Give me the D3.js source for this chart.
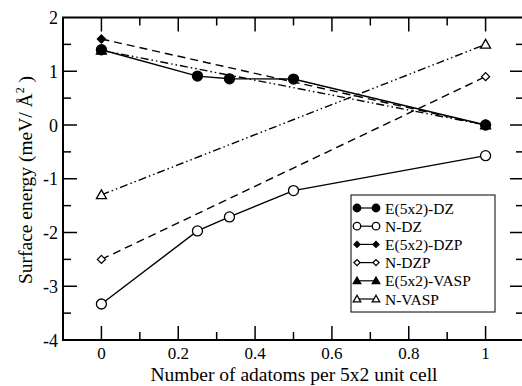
<!DOCTYPE html>
<html><head><meta charset="utf-8">
<script src="https://cdn.jsdelivr.net/npm/d3@7"></script>
<style>body{margin:0;background:#fff}svg{display:block}</style>
</head><body><svg id="c" width="522" height="386"></svg>
<script>
const xTicks = [0, 0.2, 0.4, 0.6, 0.8, 1];
const yTicks = [-4, -3, -2, -1, 0, 1, 2];
const xDZ = [0, 0.25, 0.3333, 0.5, 1];
const eDZ = [1.40, 0.91, 0.86, 0.855, 0.0];
const nDZ = [-3.33, -1.97, -1.71, -1.22, -0.57];
const xTwo = [0, 1];
const eDZP = [1.60, 0.0];
const nDZP = [-2.50, 0.90];
const eVASP = [1.39, 0.0];
const nVASP = [-1.30, 1.50];
const seriesNames = ["E(5x2)-DZ", "N-DZ", "E(5x2)-DZP", "N-DZP", "E(5x2)-VASP", "N-VASP"];

const series = [
  {name: seriesNames[0], xs: xDZ, ys: eDZ, sym: "circle", fill: true, dash: null},
  {name: seriesNames[1], xs: xDZ, ys: nDZ, sym: "circle", fill: false, dash: null},
  {name: seriesNames[2], xs: xTwo, ys: eDZP, sym: "diamond", fill: true, dash: "8,5"},
  {name: seriesNames[3], xs: xTwo, ys: nDZP, sym: "diamond", fill: false, dash: "8,5"},
  {name: seriesNames[4], xs: xTwo, ys: eVASP, sym: "triangle", fill: true, dash: "8,3,1.5,3,1.5,3"},
  {name: seriesNames[5], xs: xTwo, ys: nVASP, sym: "triangle", fill: false, dash: "8,3,1.5,3,1.5,3"}
];

const FONT = "'Liberation Serif', 'Times New Roman', 'DejaVu Serif', serif";
const svg = d3.select("#c");
const L = 63, R = 524, T = 17.5, B = 340;
const x = d3.scaleLinear().domain([-0.1, 1.1]).range([L, R]);
const y = d3.scaleLinear().domain([-4, 2]).range([B, T]);

svg.append("rect").attr("x", L).attr("y", T).attr("width", R - L).attr("height", B - T)
  .attr("fill", "none").attr("stroke", "#000").attr("stroke-width", 2);

const xMinor = d3.range(-0.1, 1.11, 0.1).map(v => +v.toFixed(2));
const yMinor = d3.range(-4, 2.01, 0.5);
const isMajorX = v => Math.abs(v * 5 - Math.round(v * 5)) < 1e-6;
const isMajorY = v => Math.abs(v - Math.round(v)) < 1e-6;
const tk = svg.append("g").attr("stroke", "#000").attr("stroke-width", 1.5);
xMinor.filter(v => v > -0.1 && v < 1.1).forEach(v => {
  const len = isMajorX(v) ? 14 : 8;
  tk.append("line").attr("x1", x(v)).attr("x2", x(v)).attr("y1", B).attr("y2", B - len);
  tk.append("line").attr("x1", x(v)).attr("x2", x(v)).attr("y1", T).attr("y2", T + len);
});
yMinor.filter(v => v > -4 && v < 2).forEach(v => {
  const len = isMajorY(v) ? 14 : 8;
  tk.append("line").attr("y1", y(v)).attr("y2", y(v)).attr("x1", L).attr("x2", L + len);
  tk.append("line").attr("y1", y(v)).attr("y2", y(v)).attr("x1", R).attr("x2", R - len);
});

svg.append("g").selectAll("text").data(xTicks).join("text")
  .attr("x", d => x(d)).attr("y", B + 19).attr("text-anchor", "middle")
  .style("font-family", FONT).style("font-size", "17px").text(d => d3.format("~g")(d));
svg.append("g").selectAll("text").data(yTicks).join("text")
  .attr("x", L - 5).attr("y", d => y(d) + 6.5).attr("text-anchor", "end")
  .style("font-family", FONT).style("font-size", "18px").text(d => d);

svg.append("text").attr("x", 294).attr("y", B + 41).attr("text-anchor", "middle")
  .style("font-family", FONT).style("font-size", "19.5px").text("Number of adatoms per 5x2 unit cell");
const yl = svg.append("text").attr("transform", `translate(32,180) rotate(-90)`)
  .attr("text-anchor", "middle").style("font-family", FONT).style("font-size", "19.5px");
yl.append("tspan").text("Surface energy (meV/ Å");
yl.append("tspan").attr("dy", -8).style("font-size", "12px").text("2");
yl.append("tspan").attr("dy", 8).text(" )");

function drawSym(g, sym, cx, cy, fill, k) {
  let el;
  if (sym === "circle") {
    el = g.append("circle").attr("cx", cx).attr("cy", cy).attr("r", 5 * k);
  } else if (sym === "diamond") {
    const s = 4 * k;
    el = g.append("path").attr("d", `M${cx},${cy - s}L${cx + s},${cy}L${cx},${cy + s}L${cx - s},${cy}Z`);
  } else {
    const s = 5 * k;
    el = g.append("path").attr("d", `M${cx},${cy - s}L${cx + s},${cy + s * 0.75}L${cx - s},${cy + s * 0.75}Z`);
  }
  el.attr("fill", fill ? "#000" : "#fff").attr("stroke", "#000").attr("stroke-width", 1.3);
}

const line = d3.line().x(d => x(d[0])).y(d => y(d[1]));
const order = [5, 4, 3, 2, 1, 0];
order.forEach(i => {
  const s = series[i];
  const pts = s.xs.map((v, j) => [v, s.ys[j]]);
  svg.append("path").attr("d", line(pts)).attr("fill", "none").attr("stroke", "#000")
    .attr("stroke-width", 1.4).attr("stroke-dasharray", s.dash);
});
order.forEach(i => {
  const s = series[i];
  const g = svg.append("g");
  s.xs.forEach((v, j) => drawSym(g, s.sym, x(v), y(s.ys[j]), s.fill, 1));
});

const lg = svg.append("g");
lg.append("rect").attr("x", 351).attr("y", 195).attr("width", 144).attr("height", 117)
  .attr("fill", "#fff").attr("stroke", "#000").attr("stroke-width", 1);
series.forEach((s, i) => {
  const cy = 208 + i * 18.2;
  lg.append("line").attr("x1", 357).attr("x2", 376).attr("y1", cy).attr("y2", cy)
    .attr("stroke", "#000").attr("stroke-width", 1.2);
  const g = lg.append("g");
  drawSym(g, s.sym, 357, cy, s.fill, 0.75);
  drawSym(g, s.sym, 376, cy, s.fill, 0.75);
  lg.append("text").attr("x", 385).attr("y", cy + 5.5).style("font-family", FONT).style("font-size", "15.5px").text(s.name);
});
</script></body></html>
